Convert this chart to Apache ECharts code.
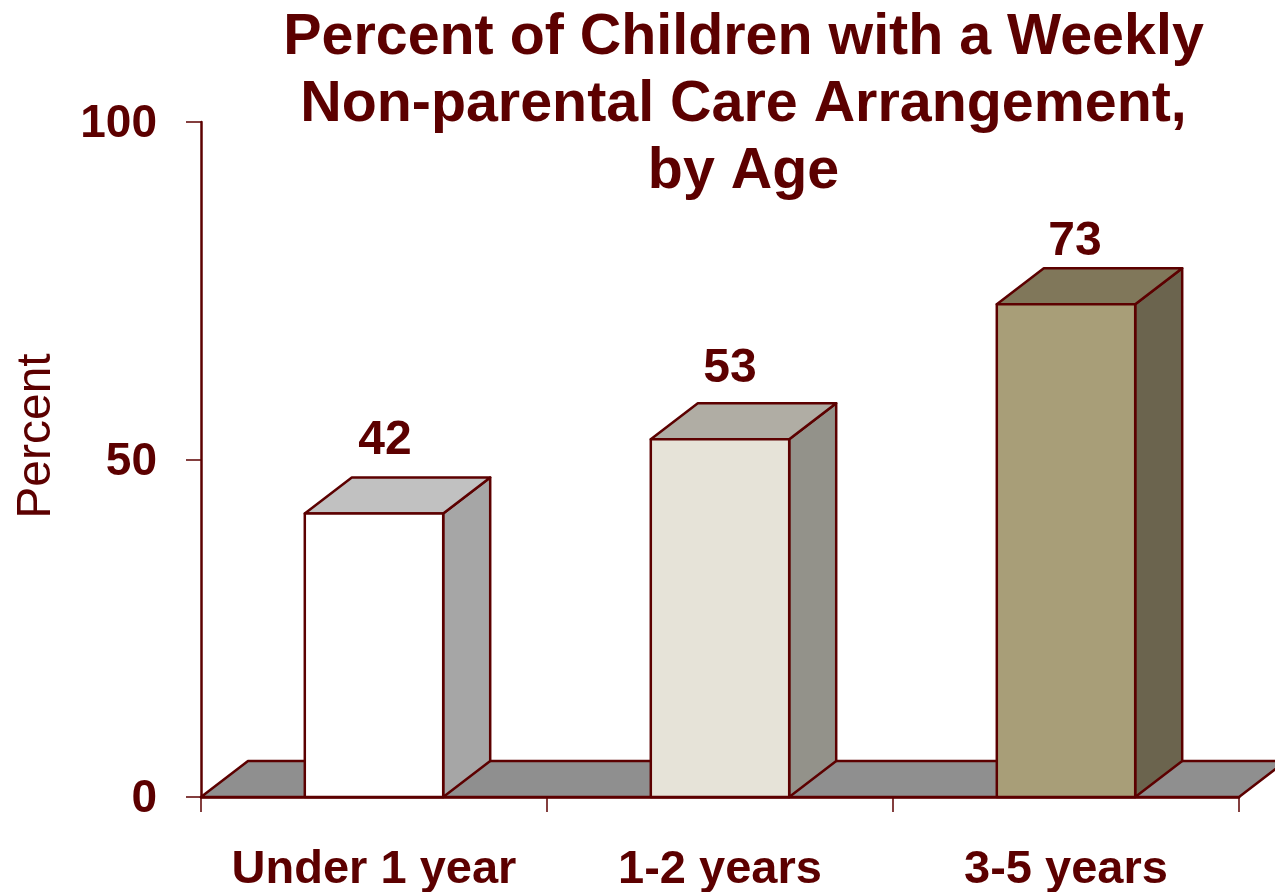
<!DOCTYPE html>
<html>
<head>
<meta charset="utf-8">
<style>
  html, body { margin: 0; padding: 0; background: #fff; }
  #chart { width: 1275px; height: 892px; }
</style>
<script src="https://cdn.jsdelivr.net/npm/echarts@6/dist/echarts.min.js"></script>
</head>
<body>
<div id="chart"></div>
<script>
const categories = ["Under 1 year", "1-2 years", "3-5 years"];
const percents = [42, 53, 73];
const yTicks = [0, 50, 100];
const titleLines = [
  "Percent of Children with a Weekly",
  "Non-parental Care Arrangement,",
  "by Age",
];

const DARK = "#5c0000";
const FONT = '"Liberation Sans", Arial, sans-serif';
const DEPTH_X = 47;
const DEPTH_Y = 36;
// front, side, top
const barColors = [
  ["#ffffff", "#a6a6a6", "#c1c1c1"],
  ["#e6e3d8", "#93928a", "#b0ada4"],
  ["#a89e78", "#6b644e", "#80775a"],
];
const labelLift = [73, 70, 62];
const labelShift = [11, 10, 9];

function poly(points, fill) {
  return {
    type: "polygon",
    shape: { points: points },
    style: { fill: fill, stroke: DARK, lineWidth: 2.5, lineJoin: "round" },
  };
}

function renderFloor(params, api) {
  const cs = params.coordSys;
  const y = cs.y + cs.height;
  return poly(
    [
      [cs.x, y],
      [cs.x + DEPTH_X, y - DEPTH_Y],
      [cs.x + cs.width + DEPTH_X, y - DEPTH_Y],
      [cs.x + cs.width, y],
    ],
    "#8f8f8f"
  );
}

function renderBar(params, api) {
  const i = params.dataIndex;
  const base = api.coord([api.value(0), 0]);
  const top = api.coord([api.value(0), api.value(1)]);
  const w = api.size([1, 0])[0] * 0.4;
  const l = base[0] - w / 2;
  const r = base[0] + w / 2;
  const c = barColors[i];
  return {
    type: "group",
    children: [
      poly(
        [
          [r, top[1]],
          [r + DEPTH_X, top[1] - DEPTH_Y],
          [r + DEPTH_X, base[1] - DEPTH_Y],
          [r, base[1]],
        ],
        c[1]
      ),
      poly(
        [
          [l, top[1]],
          [l + DEPTH_X, top[1] - DEPTH_Y],
          [r + DEPTH_X, top[1] - DEPTH_Y],
          [r, top[1]],
        ],
        c[2]
      ),
      poly(
        [
          [l, top[1]],
          [r, top[1]],
          [r, base[1]],
          [l, base[1]],
        ],
        c[0]
      ),
      {
        type: "text",
        style: {
          text: String(api.value(1)),
          x: base[0] + labelShift[i],
          y: top[1] - labelLift[i],
          align: "center",
          verticalAlign: "middle",
          fill: DARK,
          font: "bold 48px " + FONT,
        },
      },
    ],
  };
}

const chart = echarts.init(document.getElementById("chart"));
chart.setOption({
  animation: false,
  backgroundColor: "#fff",
  title: {
    text: titleLines.join("\n"),
    left: 738.5,
    top: 0,
    textAlign: "center",
    textStyle: {
      color: DARK,
      fontFamily: FONT,
      fontWeight: "bold",
      fontSize: 57.4,
      lineHeight: 67,
    },
  },
  grid: { left: 201, right: 36, top: 122, bottom: 95, outerBoundsMode: "none" },
  xAxis: {
    type: "category",
    data: categories,
    z: 3,
    axisLine: { lineStyle: { color: DARK, width: 2.5 } },
    axisTick: { show: true, length: 15, alignWithLabel: false, lineStyle: { color: DARK, width: 1.5 } },
    axisLabel: {
      color: DARK,
      fontFamily: FONT,
      fontWeight: "bold",
      fontSize: 47,
      margin: 50,
      interval: 0,
    },
  },
  yAxis: {
    type: "value",
    min: yTicks[0],
    max: yTicks[2],
    interval: yTicks[1] - yTicks[0],
    z: 3,
    name: "Percent",
    nameLocation: "middle",
    nameRotate: 90,
    nameGap: 140,
    nameTextStyle: {
      color: DARK,
      fontFamily: FONT,
      fontSize: 48,
      padding: [0, 0, 0, 47],
    },
    axisLine: { show: true, lineStyle: { color: DARK, width: 2.5 } },
    axisTick: { show: true, length: 15, lineStyle: { color: DARK, width: 1.5 } },
    splitLine: { show: false },
    axisLabel: {
      color: DARK,
      fontFamily: FONT,
      fontWeight: "bold",
      fontSize: 46,
      margin: 44,
      lineHeight: 5,
      verticalAlign: "top",
    },
  },
  series: [
    {
      type: "custom",
      name: "floor",
      coordinateSystem: "cartesian2d",
      silent: true,
      clip: false,
      z: 1,
      encode: { x: 0, y: 1 },
      data: [[0, 0]],
      renderItem: renderFloor,
    },
    {
      type: "custom",
      name: "Percent",
      coordinateSystem: "cartesian2d",
      clip: false,
      z: 2,
      encode: { x: 0, y: 1 },
      data: percents.map((v, i) => [i, v]),
      renderItem: renderBar,
    },
  ],
});
</script>
</body>
</html>
